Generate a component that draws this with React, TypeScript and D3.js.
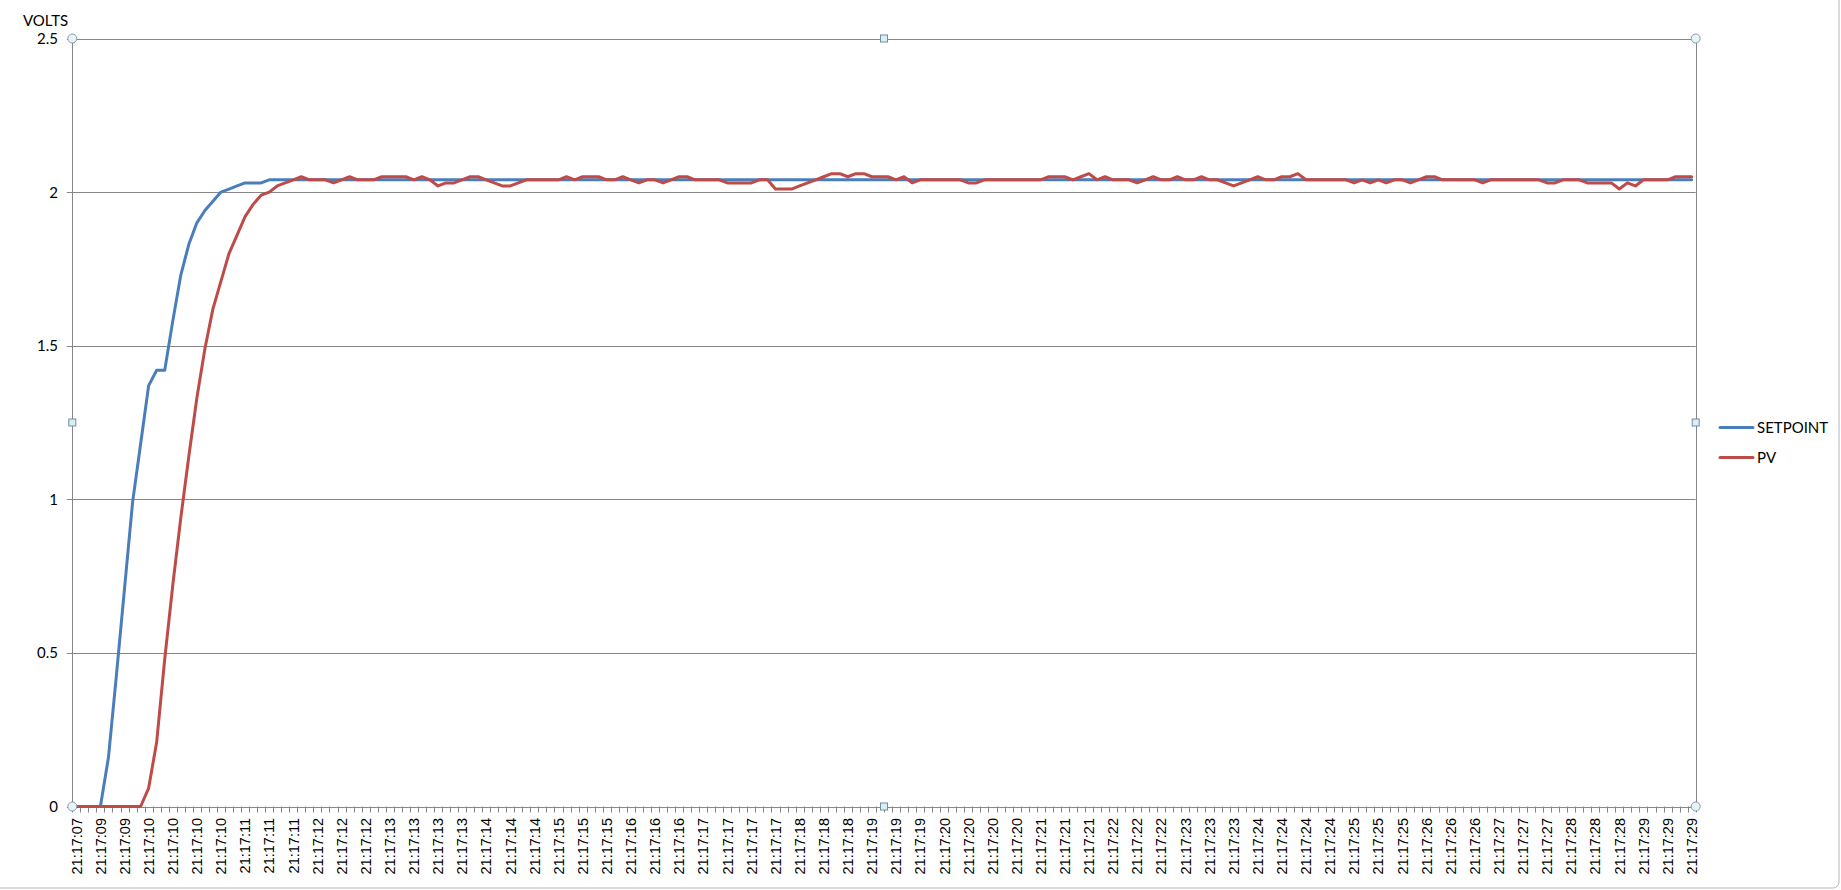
import React from "react";
import * as d3 from "d3";

const tickLabels: string[] = [
  "21:17:07", "21:17:09", "21:17:09", "21:17:10", "21:17:10", "21:17:10", "21:17:10",
  "21:17:11", "21:17:11", "21:17:11", "21:17:12", "21:17:12", "21:17:12",
  "21:17:13", "21:17:13", "21:17:13", "21:17:13", "21:17:14", "21:17:14", "21:17:14",
  "21:17:15", "21:17:15", "21:17:15", "21:17:16", "21:17:16", "21:17:16",
  "21:17:17", "21:17:17", "21:17:17", "21:17:17", "21:17:18", "21:17:18", "21:17:18",
  "21:17:19", "21:17:19", "21:17:19", "21:17:20", "21:17:20", "21:17:20", "21:17:20",
  "21:17:21", "21:17:21", "21:17:21", "21:17:22", "21:17:22", "21:17:22",
  "21:17:23", "21:17:23", "21:17:23", "21:17:24", "21:17:24", "21:17:24", "21:17:24",
  "21:17:25", "21:17:25", "21:17:25", "21:17:26", "21:17:26", "21:17:26",
  "21:17:27", "21:17:27", "21:17:27", "21:17:28", "21:17:28", "21:17:28",
  "21:17:29", "21:17:29", "21:17:29",
];
const labelEvery = 3;

const setpoint: number[] = [
  0, 0, 0, 0, 0.16, 0.43, 0.71, 0.99, 1.18, 1.37,
  1.42, 1.42, 1.58, 1.73, 1.83, 1.90, 1.94, 1.97, 2.00, 2.01,
  2.02, 2.03, 2.03, 2.03, 2.04, 2.04, 2.04, 2.04, 2.04, 2.04,
  2.04, 2.04, 2.04, 2.04, 2.04, 2.04, 2.04, 2.04, 2.04, 2.04,
  2.04, 2.04, 2.04, 2.04, 2.04, 2.04, 2.04, 2.04, 2.04, 2.04,
  2.04, 2.04, 2.04, 2.04, 2.04, 2.04, 2.04, 2.04, 2.04, 2.04,
  2.04, 2.04, 2.04, 2.04, 2.04, 2.04, 2.04, 2.04, 2.04, 2.04,
  2.04, 2.04, 2.04, 2.04, 2.04, 2.04, 2.04, 2.04, 2.04, 2.04,
  2.04, 2.04, 2.04, 2.04, 2.04, 2.04, 2.04, 2.04, 2.04, 2.04,
  2.04, 2.04, 2.04, 2.04, 2.04, 2.04, 2.04, 2.04, 2.04, 2.04,
  2.04, 2.04, 2.04, 2.04, 2.04, 2.04, 2.04, 2.04, 2.04, 2.04,
  2.04, 2.04, 2.04, 2.04, 2.04, 2.04, 2.04, 2.04, 2.04, 2.04,
  2.04, 2.04, 2.04, 2.04, 2.04, 2.04, 2.04, 2.04, 2.04, 2.04,
  2.04, 2.04, 2.04, 2.04, 2.04, 2.04, 2.04, 2.04, 2.04, 2.04,
  2.04, 2.04, 2.04, 2.04, 2.04, 2.04, 2.04, 2.04, 2.04, 2.04,
  2.04, 2.04, 2.04, 2.04, 2.04, 2.04, 2.04, 2.04, 2.04, 2.04,
  2.04, 2.04, 2.04, 2.04, 2.04, 2.04, 2.04, 2.04, 2.04, 2.04,
  2.04, 2.04, 2.04, 2.04, 2.04, 2.04, 2.04, 2.04, 2.04, 2.04,
  2.04, 2.04, 2.04, 2.04, 2.04, 2.04, 2.04, 2.04, 2.04, 2.04,
  2.04, 2.04, 2.04, 2.04, 2.04, 2.04, 2.04, 2.04, 2.04, 2.04,
  2.04, 2.04,
];

const pv: number[] = [
  0, 0, 0, 0, 0, 0, 0, 0, 0, 0.06,
  0.21, 0.48, 0.72, 0.94, 1.14, 1.33, 1.49, 1.62, 1.71, 1.80,
  1.86, 1.92, 1.96, 1.99, 2.00, 2.02, 2.03, 2.04, 2.05, 2.04,
  2.04, 2.04, 2.03, 2.04, 2.05, 2.04, 2.04, 2.04, 2.05, 2.05,
  2.05, 2.05, 2.04, 2.05, 2.04, 2.02, 2.03, 2.03, 2.04, 2.05,
  2.05, 2.04, 2.03, 2.02, 2.02, 2.03, 2.04, 2.04, 2.04, 2.04,
  2.04, 2.05, 2.04, 2.05, 2.05, 2.05, 2.04, 2.04, 2.05, 2.04,
  2.03, 2.04, 2.04, 2.03, 2.04, 2.05, 2.05, 2.04, 2.04, 2.04,
  2.04, 2.03, 2.03, 2.03, 2.03, 2.04, 2.04, 2.01, 2.01, 2.01,
  2.02, 2.03, 2.04, 2.05, 2.06, 2.06, 2.05, 2.06, 2.06, 2.05,
  2.05, 2.05, 2.04, 2.05, 2.03, 2.04, 2.04, 2.04, 2.04, 2.04,
  2.04, 2.03, 2.03, 2.04, 2.04, 2.04, 2.04, 2.04, 2.04, 2.04,
  2.04, 2.05, 2.05, 2.05, 2.04, 2.05, 2.06, 2.04, 2.05, 2.04,
  2.04, 2.04, 2.03, 2.04, 2.05, 2.04, 2.04, 2.05, 2.04, 2.04,
  2.05, 2.04, 2.04, 2.03, 2.02, 2.03, 2.04, 2.05, 2.04, 2.04,
  2.05, 2.05, 2.06, 2.04, 2.04, 2.04, 2.04, 2.04, 2.04, 2.03,
  2.04, 2.03, 2.04, 2.03, 2.04, 2.04, 2.03, 2.04, 2.05, 2.05,
  2.04, 2.04, 2.04, 2.04, 2.04, 2.03, 2.04, 2.04, 2.04, 2.04,
  2.04, 2.04, 2.04, 2.03, 2.03, 2.04, 2.04, 2.04, 2.03, 2.03,
  2.03, 2.03, 2.01, 2.03, 2.02, 2.04, 2.04, 2.04, 2.04, 2.05,
  2.05, 2.05,
];

const yTicks: number[] = [0, 0.5, 1, 1.5, 2, 2.5];
const seriesNames = ["SETPOINT", "PV"];
const seriesColors = ["#4A7EBB", "#BE4B48"];

export default function App() {
  const W = 1841, H = 890;
  const left = 72.3, right = 1695.7, top = 38.5, bottom = 806.5;
  const N = pv.length;
  const idx = d3.range(N);
  const x = d3.scalePoint<number>().domain(idx).range([left, right]).padding(0.5);
  const step = x.step();
  const y = d3.scaleLinear().domain([0, 2.5]).range([bottom, top]);
  const line = d3.line<number>().x((_, i) => x(i) as number).y((d) => y(d));
  const series = [setpoint, pv];
  const gray = "#868686";
  const midX = (left + right) / 2;
  const midY = (top + bottom) / 2;
  const axisFont = "Lato, 'Open Sans', sans-serif";

  return (
    <svg width={W} height={H} style={{ position: "absolute", left: 0, top: 0, background: "#fff" }}>
      <rect x={-6} y={-6} width={W + 4} height={H + 4} rx={6} fill="#fff" stroke="#b5b5b5" strokeWidth={1} />
      {yTicks.map((t) => (
        <g key={t}>
          <line x1={left - 5.5} x2={right} y1={Math.round(y(t)) + 0.5} y2={Math.round(y(t)) + 0.5} stroke={gray} strokeWidth={1} />
          <text x={58} y={y(t)} dy="0.36em" textAnchor="end" fontFamily={axisFont} fontSize={15} fill="#000">{String(t)}</text>
        </g>
      ))}
      <line x1={Math.round(left) + 0.5} x2={Math.round(left) + 0.5} y1={top} y2={bottom} stroke={gray} strokeWidth={1} />
      <line x1={Math.round(right) + 0.5} x2={Math.round(right) + 0.5} y1={top} y2={bottom} stroke={gray} strokeWidth={1} />
      {d3.range(N + 1).map((k) => {
        const tx = Math.round(left + k * step) + 0.5;
        return <line key={k} x1={tx} x2={tx} y1={bottom} y2={bottom + 6} stroke={gray} strokeWidth={1} />;
      })}
      {tickLabels.map((lab, k) => {
        const cx = x(k * labelEvery) as number;
        return (
          <text key={k} transform={`translate(${cx},${818}) rotate(-90)`} dy="0.36em" textAnchor="end"
            fontFamily="'Liberation Sans', Arial, sans-serif" fontSize={14.5} fill="#000">{lab}</text>
        );
      })}
      <text x={23} y={26} fontFamily={axisFont} fontSize={15} fill="#000">VOLTS</text>
      {series.map((s, si) => (
        <path key={si} d={line(s) || ""} fill="none" stroke={seriesColors[si]} strokeWidth={3} strokeLinejoin="round" strokeLinecap="round" />
      ))}
      {seriesNames.map((name, si) => {
        const ly = 427.5 + si * 30;
        return (
          <g key={name}>
            <line x1={1720} x2={1753} y1={ly} y2={ly} stroke={seriesColors[si]} strokeWidth={3} strokeLinecap="round" />
            <text x={1757} y={ly} dy="0.36em" fontFamily={axisFont} fontSize={15} fill="#000">{name}</text>
          </g>
        );
      })}
      {[[left, top], [right, top], [left, bottom], [right, bottom]].map(([cx, cy], i) => (
        <circle key={"c" + i} cx={cx} cy={cy} r={4.5} fill="#e6f3f7" stroke="#8b9ba6" strokeWidth={1} />
      ))}
      {[[midX, top], [left, midY], [right, midY], [midX, bottom]].map(([cx, cy], i) => (
        <rect key={"s" + i} x={cx - 3.5} y={cy - 3.5} width={7} height={7} fill="#dcedf4" stroke="#6d8ea3" strokeWidth={1} />
      ))}
    </svg>
  );
}
